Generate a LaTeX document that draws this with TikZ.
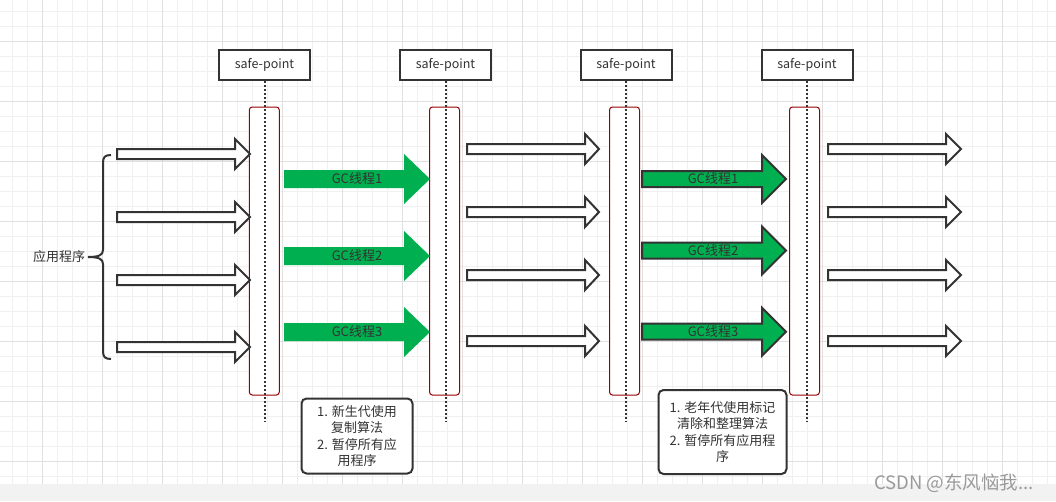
\documentclass[tikz,border=0pt]{standalone}
\usepackage{fontspec}
\setmainfont{Noto Sans CJK SC}
\definecolor{dk}{HTML}{333333}
\definecolor{gcol}{HTML}{00B050}
\definecolor{barred}{HTML}{990000}
\definecolor{gridminor}{HTML}{F0F0F0}
\definecolor{gridmajor}{HTML}{E0E0E0}
\definecolor{band}{HTML}{F2F2F2}
\definecolor{wmc}{HTML}{9A9A9A}
% #1 style, #2 x start, #3 x head base, #4 x tip, #5 y centre, #6 shaft half height, #7 head half height
\newcommand{\blkarrow}[7]{%
  \draw[#1] (#2,#5-#6) -- (#3,#5-#6) -- (#3,#5-#7) -- (#4,#5) -- (#3,#5+#7) -- (#3,#5+#6) -- (#2,#5+#6) -- cycle;}
\begin{document}
\begin{tikzpicture}[x=1pt,y=-1pt,line join=miter,
  wa/.style={draw=dk,fill=white,line width=2pt},
  ga/.style={fill=gcol,draw=none},
  gab/.style={fill=gcol,draw=dk,line width=2pt},
  spbox/.style={draw=dk,fill=white,line width=2pt,minimum width=91pt,minimum height=30pt,inner sep=0pt,font=\fontsize{12.5}{15}\selectfont,text=dk},
  bar/.style={draw=barred,fill=white,line width=1pt,rounded corners=3pt,minimum width=30pt,minimum height=288pt,inner sep=0pt},
  dots/.style={draw=dk,line width=2pt,dash pattern=on 2pt off 2pt},
  note/.style={draw=dk,fill=white,line width=2pt,rounded corners=5pt,align=center,inner sep=0pt,font=\fontsize{13}{16.5}\selectfont,text=dk},
  glabel/.style={font=\fontsize{13}{15}\selectfont,text=dk,inner sep=0pt}]
\useasboundingbox (0,0) rectangle (1056,501);
\fill[white] (0,0) rectangle (1056,501);
% grid
\foreach \x in {12.5,27.5,...,1056} \draw[gridminor,line width=1pt] (\x,0) -- (\x,501);
\foreach \y in {11.5,26.5,...,501} \draw[gridminor,line width=1pt] (0,\y) -- (1056,\y);
\foreach \x in {42.5,102.5,...,1056} \draw[gridmajor,line width=1pt] (\x,0) -- (\x,501);
\foreach \y in {41.5,101.5,...,501} \draw[gridmajor,line width=1pt] (0,\y) -- (1056,\y);
% bottom band and watermark
\fill[band] (0,484) rectangle (1056,501);
\node[anchor=west,text=wmc,font=\fontsize{18.5}{20}\selectfont,inner sep=0pt] (wm) at (874,483) {CSDN @东风恼我...};
% safe-point boxes
\node[spbox] (sp1) at (264.5,65) {safe-point};
\node[spbox] (sp2) at (445.5,65) {safe-point};
\node[spbox] (sp3) at (626,65) {safe-point};
\node[spbox] (sp4) at (807,65) {safe-point};
% bars
\node[bar] (b1) at (264.3,251) {};
\node[bar] (b2) at (444.5,251) {};
\node[bar] (b3) at (624.5,251) {};
\node[bar] (b4) at (804.5,251) {};
% dotted lines
\coordinate (d1) at (264.5,422);
\coordinate (d2) at (445.5,422);
\coordinate (d3) at (626,422);
\coordinate (d4) at (807,422);
\draw[dots] (sp1.south) -- (d1);
\draw[dots] (sp2.south) -- (d2);
\draw[dots] (sp3.south) -- (d3);
\draw[dots] (sp4.south) -- (d4);
% left white arrows
\foreach \yc in {154,217,280,347} {\blkarrow{wa}{117}{235}{250}{\yc}{5}{15}}
% middle white arrows
\foreach \yc in {149,212,275,341} {\blkarrow{wa}{467}{585}{599}{\yc}{5}{15}}
% right white arrows
\foreach \yc in {149,212,275,341} {\blkarrow{wa}{828}{946}{961}{\yc}{5}{15}}
% green arrows, left group
\blkarrow{ga}{284}{404}{430}{179}{9}{25}
\blkarrow{ga}{284}{404}{430}{256}{9}{25}
\blkarrow{ga}{284}{404}{430}{332}{9}{25}
\node[glabel] (gl1) at (357,179) {GC线程1};
\node[glabel] (gl2) at (357,256) {GC线程2};
\node[glabel] (gl3) at (357,332) {GC线程3};
% green arrows, right group
\blkarrow{gab}{642}{762}{786}{179}{8}{24}
\blkarrow{gab}{642}{762}{786}{250.5}{8}{24}
\blkarrow{gab}{642}{762}{786}{331.7}{8}{24}
\node[glabel] (gr1) at (713,179) {GC线程1};
\node[glabel] (gr2) at (713,250.5) {GC线程2};
\node[glabel] (gr3) at (713,331.7) {GC线程3};
% brace
\draw[dk,line width=2pt] (111,155) .. controls (105,155) and (103,157) .. (103,163) -- (103,250) .. controls (103,255) and (99,257) .. (88,257);
\draw[dk,line width=2pt] (111,359) .. controls (105,359) and (103,357) .. (103,351) -- (103,264) .. controls (103,259) and (99,257) .. (88,257);
\node[font=\fontsize{13}{15}\selectfont,text=dk,inner sep=0pt] (app) at (59,257) {应用程序};
% notes
\node[note,minimum width=111pt,minimum height=75pt] (n1) at (357,436) {1. 新生代使用\\复制算法\\2. 暂停所有应\\用程序};
\node[note,minimum width=128pt,minimum height=84pt] (n2) at (722.5,432) {1. 老年代使用标记\\清除和整理算法\\2. 暂停所有应用程\\序};
\end{tikzpicture}
\end{document}
